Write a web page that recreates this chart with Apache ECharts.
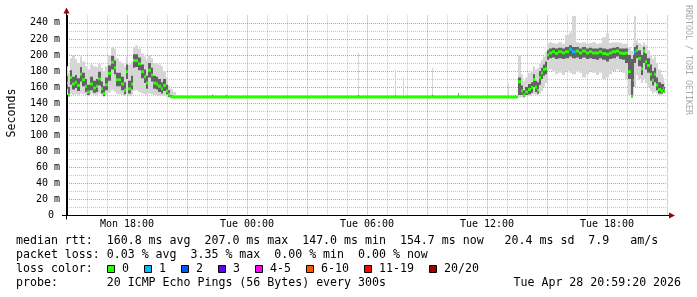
<!DOCTYPE html>
<html><head><meta charset="utf-8">
<script src="https://cdn.jsdelivr.net/npm/echarts@6/dist/echarts.min.js"></script>
<style>html,body{margin:0;padding:0;background:#fff}#c{width:697px;height:297px}</style>
</head><body><div id="c"></div>
<script>
// time of each sample, hours since Mon 00:00
const times = [15.00,15.07,15.18,15.32,15.45,15.57,15.68,15.82,15.95,16.08,16.23,16.37,16.48,16.62,16.73,16.85,16.98,17.12,17.28,17.40,17.52,17.65,17.78,17.90,17.98,18.12,18.23,18.35,18.48,18.65,18.77,18.88,19.00,19.12,19.23,19.37,19.48,19.62,19.73,19.87,19.98,20.10,20.20,20.35,20.50,
  20.65,22.20,22.25,22.30,22.90,22.95,23.00,29.50,29.55,29.60,31.35,31.40,31.45,31.75,31.80,31.85,33.20,33.25,33.30,34.50,34.55,34.60,37.00,37.05,37.10,37.50,
  37.62,37.74,37.85,37.99,38.12,38.24,38.35,38.45,38.57,38.65,38.74,38.85,38.95,39.02,39.15,39.32,39.49,39.65,39.82,39.99,40.19,40.35,40.52,40.69,40.85,41.02,41.19,41.35,41.52,41.69,41.85,42.02,42.19,42.35,42.52,42.69,42.85,42.99,43.12,43.24,43.32,43.40,43.52,43.62,43.74,43.85,43.95,44.07,44.19,44.29,44.40,44.49,44.62,44.74,44.82,44.90];
// median rtt (ms)
const median = [165,150,172,164,166,162,176,169,161,154,164,159,161,170,158,152,163,177,191,184,169,169,164,156,179,158,164,193,193,189,179,173,165,181,175,165,164,161,158,162,155,151,148,147.8,147.6,
  147.5,147.5,147.5,147.5,147.5,147.5,147.5,147.5,147.5,147.5,147.5,147.5,147.5,147.5,147.5,147.5,147.5,147.5,147.5,147.5,149,147.5,147.5,147.5,147.5,147.5,
  166.5,155,150,154,157,159.5,169.5,160,156,172,177.5,182,183,200,202.5,204,202,204,202.5,204,207,204,205,202.5,205,202.5,204,202.5,202.5,204,202,201,202.5,204,205,202.5,202,202.5,179,148.5,168.5,204,206,195.5,183,205,191.5,187,176,168.5,176,162.5,157,155,158,155];
// smoke: lowest ping, lower dense edge, upper dense edge, highest ping (ms)
const smokeMin = [150,148,152,150,151,150,152,151,150,149,151,150,150,152,149,148,150,153,156,154,151,151,150,149,152,149,150,155,156,154,152,151,150,152,151,150,150,149,149,149,148,147,147,147,147,
  146.8,146.8,146.8,146.8,146.8,146.8,146.8,146.8,146.8,146.8,146.8,146.8,146.8,146.8,146.8,146.8,146.8,146.8,146.8,146.8,146.8,146.8,146.8,146.8,146.8,146.8,
  147,147,146,148,149,150,151,150,150,152,155,160,165,180,182,180,176,178,175,180,178,176,180,178,172,176,180,178,175,178,170,172,176,180,182,180,178,170,150,146,150,160,175,170,165,170,165,160,155,152,154,152,150,150,152,152];
const smokeLow = [158,149,163,157,159,155,167,161,154,150,156,153,154,162,152,149,156,168,182,176,161,161,156,151,170,152,157,184,185,181,171,165,158,172,167,158,157,154,152,155,151,148,147,147,147,
  147,147,147,147,147,147,147,147,147,147,147,147,147,147,147,147,147,147,147,147,147,147,147,147,147,147,
  150,150,148,150,151,153,160,154,152,163,170,174,176,194,196,197,195,196,195,196,198,196,197,195,197,195,196,195,194,196,194,192,195,196,198,195,194,190,170,148,160,190,196,186,175,190,182,178,168,162,166,156,152,152,154,153];
const smokeHigh = [174,160,181,173,175,171,185,178,170,163,173,168,170,179,167,161,172,187,199,193,178,178,173,166,188,168,174,201,201,197,188,182,174,190,184,174,173,170,166,170,163,156,150,149,148.5,
  148.2,148.2,150,148.2,148.2,149.5,148.2,148.2,150,148.2,148.2,150,148.2,148.2,149,148.2,148.2,150,148.2,148.2,152,148.2,148.2,149,148.2,148.2,
  172,162,156,160,164,166,176,168,166,180,184,188,192,206,208,209,208,209,208,210,212,210,210,208,210,208,209,208,208,209,208,207,208,209,210,208,208,208,200,195,200,210,212,206,200,210,202,196,188,180,184,172,166,164,164,160];
const smokeMax = [186,178,196,200,195,190,198,192,186,182,188,186,185,189,184,180,186,200,210,208,196,192,190,186,198,188,192,210,212,208,202,198,194,200,196,190,190,188,186,180,172,162,158,154,150,
  148.6,148.6,151,148.6,148.6,150.5,148.6,148.6,203,148.6,148.6,182,148.6,148.6,172,148.6,148.6,184,148.6,148.6,153,148.6,148.6,165,148.6,148.6,
  200,176,168,172,178,180,186,182,184,190,194,198,204,214,216,215,214,216,214,225,228,249,216,215,216,214,215,216,214,215,222,227,215,216,216,215,214,214,210,205,215,249,218,215,212,216,212,206,200,195,198,190,182,176,172,166];
// lost pings out of 20 per sample
const lossCount = [0,0,0,0,0,0,0,0,0,0,0,0,0,0,0,0,0,0,0,0,0,0,0,0,0,0,0,0,0,0,0,0,0,0,0,0,0,0,0,0,0,0,0,0,0,
  0,0,0,0,0,0,0,0,0,0,0,0,0,0,0,0,0,0,0,0,0,0,0,0,0,0,
  0,0,0,0,0,0,0,0,0,0,0,0,0,0,0,0,0,0,0,0,1,1,0,0,0,0,0,0,0,0,0,0,0,0,0,0,0,0,0,0,1,1,0,0,0,0,0,0,0,0,0,0,0,0,0,0];

const xTickValues = [18, 24, 30, 36, 42];
const xTickLabels = ['Mon 18:00', 'Tue 00:00', 'Tue 06:00', 'Tue 12:00', 'Tue 18:00'];
const yTickValues = [0, 20, 40, 60, 80, 100, 120, 140, 160, 180, 200, 220, 240];
const yTickLabels = ['0 ', '20 m', '40 m', '60 m', '80 m', '100 m', '120 m', '140 m', '160 m', '180 m', '200 m', '220 m', '240 m'];
const lossLabels = ['0', '1', '2', '3', '4-5', '6-10', '11-19', '20/20'];
const lossColors = ['#26ff00', '#00b8ff', '#0059ff', '#5e00ff', '#ff00ff', '#ff5500', '#ff0000', '#a10000'];
const statsRtt = 'median rtt:  160.8 ms avg  207.0 ms max  147.0 ms min  154.7 ms now   20.4 ms sd  7.9   am/s';
const statsLoss = 'packet loss: 0.03 % avg  3.35 % max  0.00 % min  0.00 % now';
const lossTitle = 'loss color:';
const probeText = 'probe:       20 ICMP Echo Pings (56 Bytes) every 300s';
const stampText = 'Tue Apr 28 20:59:20 2026';
const yName = 'Seconds';
const watermark = 'RRDTOOL / TOBI OETIKER';

function lossBucket(c) {
  if (c <= 0) return 0; if (c === 1) return 1; if (c === 2) return 2; if (c === 3) return 3;
  if (c <= 5) return 4; if (c <= 10) return 5; if (c <= 19) return 6; return 7;
}

const n = times.length;
const smokeData = times.map((t, i) => [
  i === 0 ? t : (times[i - 1] + t) / 2,
  i === n - 1 ? t : (t + times[i + 1]) / 2,
  smokeMin[i], smokeLow[i], smokeHigh[i], smokeMax[i], median[i], lossCount[i]
]);

const MONO = '"DejaVu Sans Mono", monospace';
const GRID_L = 67, GRID_T = 15.5, GRID_W = 600, GRID_H = 200;
const MAJOR = 'rgba(230,80,80,0.65)', MINOR = 'rgba(140,140,140,0.5)';

function renderSmoke(params, api) {
  const x0 = api.value(0), x1 = api.value(1);
  const pHi = api.coord([x0, api.value(5)]);
  const pLo = api.coord([x1, api.value(2)]);
  const pDh = api.coord([x0, api.value(4)]);
  const pDl = api.coord([x1, api.value(3)]);
  const pM = api.coord([x0, api.value(6)]);
  const left = Math.round(pHi[0]), right = Math.round(pLo[0]);
  const w = right - left;
  if (w <= 0) return { type: 'group', children: [] };
  return { type: 'group', children: [
    { type: 'rect', shape: { x: left, y: pHi[1], width: w, height: pLo[1] - pHi[1] }, style: { fill: '#d6d6d6' } },
    { type: 'rect', shape: { x: left, y: pDh[1], width: w, height: pDl[1] - pDh[1] }, style: { fill: '#626262' } },
    { type: 'rect', shape: { x: left, y: pM[1] - 1.5, width: w, height: 3 }, style: { fill: lossColors[lossBucket(api.value(7))] } }
  ]};
}

const CW = 7.0;          // legend character advance
const LX = 16;           // legend left
const LY = [241, 255.3, 269.3, 283.3];
const graphic = [];
graphic.push({ type: 'text', x: 11.5, y: 113, rotation: Math.PI / 2, style: { text: yName, font: '11.6px ' + MONO, fill: '#000', align: 'center', verticalAlign: 'middle' } });
graphic.push({ type: 'text', x: 688, y: 60, rotation: -Math.PI / 2, style: { text: watermark, font: '8.3px ' + MONO, fill: '#a8a8a8', align: 'center', verticalAlign: 'middle' } });
graphic.push({ type: 'text', x: LX, y: LY[0], style: { text: statsRtt, font: '11.6px ' + MONO, fill: '#000', verticalAlign: 'middle' } });
graphic.push({ type: 'text', x: LX, y: LY[1], style: { text: statsLoss, font: '11.6px ' + MONO, fill: '#000', verticalAlign: 'middle' } });
graphic.push({ type: 'text', x: LX, y: LY[2], style: { text: lossTitle, font: '11.6px ' + MONO, fill: '#000', verticalAlign: 'middle' } });
let tx = LX + 13 * CW + 15;
lossLabels.forEach((lab, i) => {
  const bx = Math.round(tx - 15) + 0.5;
  graphic.push({ type: 'rect', shape: { x: bx, y: 265.5, width: 7, height: 7 }, style: { fill: lossColors[i], stroke: '#000', lineWidth: 1 } });
  graphic.push({ type: 'text', x: tx, y: LY[2], style: { text: lab, font: '11.6px ' + MONO, fill: '#000', verticalAlign: 'middle' } });
  tx += lab.length * CW + 30;
});
graphic.push({ type: 'text', x: LX, y: LY[3], style: { text: probeText, font: '11.6px ' + MONO, fill: '#000', verticalAlign: 'middle' } });
graphic.push({ type: 'text', x: 513.5, y: LY[3], style: { text: stampText, font: '11.6px ' + MONO, fill: '#000', verticalAlign: 'middle' } });
// axis extensions and arrows
const AX_Y = GRID_T + GRID_H, AX_X = GRID_L - 0.5;
graphic.push({ type: 'line', shape: { x1: GRID_L - 5, y1: AX_Y, x2: GRID_L + GRID_W + 3, y2: AX_Y }, style: { stroke: '#000', lineWidth: 1 } });
graphic.push({ type: 'polygon', shape: { points: [[GRID_L + GRID_W + 2, AX_Y - 3], [GRID_L + GRID_W + 8, AX_Y], [GRID_L + GRID_W + 2, AX_Y + 3]] }, style: { fill: '#990000' } });
graphic.push({ type: 'line', shape: { x1: AX_X, y1: AX_Y + 4, x2: AX_X, y2: GRID_T - 3 }, style: { stroke: '#000', lineWidth: 1 } });
graphic.push({ type: 'polygon', shape: { points: [[AX_X - 3, GRID_T - 2], [AX_X, GRID_T - 8], [AX_X + 3, GRID_T - 2]] }, style: { fill: '#990000' } });

const chart = echarts.init(document.getElementById('c'), null, { renderer: 'canvas' });
chart.setOption({
  animation: false,
  backgroundColor: '#ffffff',
  grid: { left: GRID_L, top: GRID_T, width: GRID_W, height: GRID_H, containLabel: false, outerBoundsMode: 'none' },
  xAxis: {
    type: 'value', min: 15, max: 45, interval: 1,
    axisLine: { show: true, onZero: false, lineStyle: { color: '#000', width: 1 } },
    axisTick: { show: false },
    axisLabel: {
      fontFamily: MONO, fontSize: 10, color: '#000', margin: 4, hideOverlap: false,
      formatter: v => { const k = xTickValues.indexOf(Math.round(v)); return (k >= 0 && Math.abs(v - Math.round(v)) < 1e-6) ? xTickLabels[k] : ''; }
    },
    splitLine: { show: true, showMinLine: true, showMaxLine: true, lineStyle: { color: [MAJOR, MINOR, MINOR], type: [1, 1], width: 1 } }
  },
  yAxis: {
    type: 'value', min: 0, max: 249.2, interval: 10,
    axisLine: { show: true, lineStyle: { color: '#000', width: 1 } },
    axisTick: { show: false },
    axisLabel: {
      fontFamily: MONO, fontSize: 10, color: '#000', margin: 7, hideOverlap: false,
      formatter: v => { const k = yTickValues.indexOf(Math.round(v)); return (k >= 0 && Math.abs(v - Math.round(v)) < 1e-6) ? yTickLabels[k] : ''; }
    },
    splitLine: { show: true, showMinLine: true, showMaxLine: false, lineStyle: { color: [MAJOR, MINOR], type: [1, 1], width: 1 } }
  },
  series: [{
    type: 'custom', name: 'smoke', renderItem: renderSmoke, clip: true, silent: true,
    encode: { x: [0, 1], y: [2, 5] },
    data: smokeData
  }],
  graphic: graphic
});
</script></body></html>
